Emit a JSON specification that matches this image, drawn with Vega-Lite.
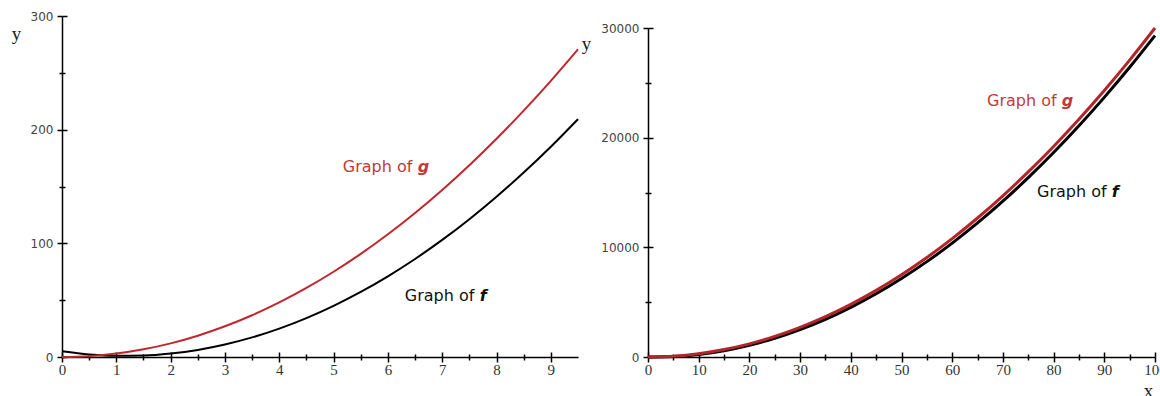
{
  "$schema": "https://vega.github.io/schema/vega-lite/v6.json",
  "autosize": {"type": "none"},
  "padding": {"left": 62, "top": 16, "right": 5, "bottom": 39},
  "width": 1093,
  "height": 341,
  "background": "white",
  "config": {"view": {"stroke": null}, "axis": {"grid": false}},
  "datasets": {
    "left": [
      {"x": 0, "f": 5, "g": 0}, {"x": 0.5, "f": 2.25, "g": 0.75}, {"x": 1, "f": 1, "g": 3}, {"x": 1.5, "f": 1.25, "g": 6.75},
      {"x": 2, "f": 3, "g": 12}, {"x": 2.5, "f": 6.25, "g": 18.75}, {"x": 3, "f": 11, "g": 27}, {"x": 3.5, "f": 17.25, "g": 36.75},
      {"x": 4, "f": 25, "g": 48}, {"x": 4.5, "f": 34.25, "g": 60.75}, {"x": 5, "f": 45, "g": 75}, {"x": 5.5, "f": 57.25, "g": 90.75},
      {"x": 6, "f": 71, "g": 108}, {"x": 6.5, "f": 86.25, "g": 126.75}, {"x": 7, "f": 103, "g": 147}, {"x": 7.5, "f": 121.25, "g": 168.75},
      {"x": 8, "f": 141, "g": 192}, {"x": 8.5, "f": 162.25, "g": 216.75}, {"x": 9, "f": 185, "g": 243}, {"x": 9.5, "f": 209.25, "g": 270.75}
    ],
    "right": [
      {"x": 0, "f": 5, "g": 0}, {"x": 5, "f": 45, "g": 75}, {"x": 10, "f": 235, "g": 300}, {"x": 15, "f": 575, "g": 675},
      {"x": 20, "f": 1065, "g": 1200}, {"x": 25, "f": 1705, "g": 1875}, {"x": 30, "f": 2495, "g": 2700}, {"x": 35, "f": 3435, "g": 3675},
      {"x": 40, "f": 4525, "g": 4800}, {"x": 45, "f": 5765, "g": 6075}, {"x": 50, "f": 7155, "g": 7500}, {"x": 55, "f": 8695, "g": 9075},
      {"x": 60, "f": 10385, "g": 10800}, {"x": 65, "f": 12225, "g": 12675}, {"x": 70, "f": 14215, "g": 14700}, {"x": 75, "f": 16355, "g": 16875},
      {"x": 80, "f": 18645, "g": 19200}, {"x": 85, "f": 21085, "g": 21675}, {"x": 90, "f": 23675, "g": 24300}, {"x": 95, "f": 26415, "g": 27075},
      {"x": 100, "f": 29305, "g": 30000}
    ],
    "leftText": [
      {"x": 5.17, "y": 167.2, "t": "Graph of", "c": "g"},
      {"x": 6.31, "y": 53.7, "t": "Graph of", "c": "f"}
    ],
    "leftItal": [
      {"x": 6.55, "y": 167.2, "t": "g", "c": "g"},
      {"x": 7.69, "y": 53.7, "t": "f", "c": "f"}
    ],
    "rightText": [
      {"x": 66.86, "y": 23344, "t": "Graph of", "c": "g"},
      {"x": 76.73, "y": 15046, "t": "Graph of", "c": "f"}
    ],
    "rightItal": [
      {"x": 81.6, "y": 23344, "t": "g", "c": "g"},
      {"x": 91.48, "y": 15046, "t": "f", "c": "f"}
    ]
  },
  "resolve": {"scale": {"x": "independent", "y": "independent"}},
  "layer": [
    {
      "data": {"name": "left"},
      "mark": {"type": "line", "color": "#000000", "strokeWidth": 2, "interpolate": "monotone"},
      "encoding": {
        "x": {"field": "x", "type": "quantitative", "scale": {"domain": [0, 9.5], "range": [0, 516], "nice": false, "zero": false},
          "axis": {"orient": "bottom", "values": [0, 1, 2, 3, 4, 5, 6, 7, 8, 9], "tickSize": 5, "tickWidth": 1.5, "tickColor": "#000", "domainColor": "#000", "domainWidth": 1.5,
            "labelFont": "Liberation Serif", "labelFontSize": 15, "labelColor": "#333", "labelPadding": 0, "labelFlush": false, "labelOverlap": false, "title": null}},
        "y": {"field": "f", "type": "quantitative", "scale": {"domain": [0, 300], "range": [341, 0], "nice": false},
          "axis": {"orient": "left", "values": [0, 100, 200, 300], "format": "d", "tickSize": 5, "tickWidth": 1.5, "tickColor": "#000", "domainColor": "#000", "domainWidth": 1.5,
            "labelFont": "DejaVu Sans", "labelFontSize": 12, "labelColor": "#444", "labelPadding": 4, "labelOverlap": false, "labelFlush": false,
            "title": "y", "titleAngle": 0, "titleX": -46, "titleY": 17, "titleAlign": "center", "titleBaseline": "middle",
            "titleFont": "Liberation Serif", "titleFontSize": 19, "titleFontWeight": "normal", "titleColor": "#222"}}
      }
    },
    {
      "data": {"name": "left"},
      "mark": {"type": "line", "color": "#c0272d", "strokeWidth": 2, "interpolate": "monotone"},
      "encoding": {
        "x": {"field": "x", "type": "quantitative", "scale": {"domain": [0, 9.5], "range": [0, 516], "nice": false, "zero": false},
          "axis": {"orient": "bottom", "values": [0, 1, 2, 3, 4, 5, 6, 7, 8, 9], "tickSize": -5, "tickWidth": 1.5, "tickColor": "#000", "domain": false, "labels": false, "title": null}},
        "y": {"field": "g", "type": "quantitative", "scale": {"domain": [0, 300], "range": [341, 0], "nice": false},
          "axis": {"orient": "left", "values": [0, 100, 200, 300], "tickSize": -5, "tickWidth": 1.5, "tickColor": "#000", "domain": false, "labels": false, "title": null}}
      }
    },
    {
      "data": {"name": "leftText"},
      "mark": {"type": "text", "align": "left", "baseline": "middle", "font": "DejaVu Sans", "fontSize": 16},
      "encoding": {
        "x": {"field": "x", "type": "quantitative", "scale": {"domain": [0, 9.5], "range": [0, 516], "nice": false, "zero": false},
          "axis": {"orient": "bottom", "values": [0.5, 1.5, 2.5, 3.5, 4.5, 5.5, 6.5, 7.5, 8.5], "tickSize": 3, "tickWidth": 1.5, "tickColor": "#000", "domain": false, "labels": false, "title": null}},
        "y": {"field": "y", "type": "quantitative", "scale": {"domain": [0, 300], "range": [341, 0], "nice": false},
          "axis": {"orient": "left", "values": [50, 150, 250], "tickSize": 3, "tickWidth": 1.5, "tickColor": "#000", "domain": false, "labels": false, "title": null}},
        "text": {"field": "t"},
        "color": {"field": "c", "type": "nominal", "scale": {"domain": ["g", "f"], "range": ["#c23a3a", "#111111"]}, "legend": null}
      }
    },
    {
      "data": {"name": "leftItal"},
      "mark": {"type": "text", "align": "left", "baseline": "middle", "font": "DejaVu Sans", "fontSize": 16, "fontStyle": "italic", "fontWeight": "bold"},
      "encoding": {
        "x": {"field": "x", "type": "quantitative", "scale": {"domain": [0, 9.5], "range": [0, 516], "nice": false, "zero": false},
          "axis": {"orient": "bottom", "values": [0.5, 1.5, 2.5, 3.5, 4.5, 5.5, 6.5, 7.5, 8.5], "tickSize": -3, "tickWidth": 1.5, "tickColor": "#000", "domain": false, "labels": false, "title": null}},
        "y": {"field": "y", "type": "quantitative", "scale": {"domain": [0, 300], "range": [341, 0], "nice": false},
          "axis": {"orient": "left", "values": [50, 150, 250], "tickSize": -3, "tickWidth": 1.5, "tickColor": "#000", "domain": false, "labels": false, "title": null}},
        "text": {"field": "t"},
        "color": {"field": "c", "type": "nominal", "scale": {"domain": ["g", "f"], "range": ["#c23a3a", "#111111"]}, "legend": null}
      }
    },
    {
      "data": {"name": "right"},
      "mark": {"type": "line", "color": "#000000", "strokeWidth": 3, "interpolate": "monotone"},
      "encoding": {
        "x": {"field": "x", "type": "quantitative", "scale": {"domain": [0, 100], "range": [586, 1093], "nice": false, "zero": false},
          "axis": {"orient": "bottom", "values": [0, 10, 20, 30, 40, 50, 60, 70, 80, 90, 100], "tickSize": 5, "tickWidth": 1.5, "tickColor": "#000", "domainColor": "#000", "domainWidth": 1.5,
            "labelFont": "Liberation Serif", "labelFontSize": 15, "labelColor": "#333", "labelPadding": 0, "labelFlush": false, "labelOverlap": false,
            "title": "x", "titleX": 1086, "titleY": 33, "titleAlign": "center", "titleBaseline": "middle",
            "titleFont": "Liberation Serif", "titleFontSize": 19, "titleFontWeight": "normal", "titleColor": "#222"}},
        "y": {"field": "f", "type": "quantitative", "scale": {"domain": [0, 30000], "range": [341, 12], "nice": false},
          "axis": {"orient": "left", "offset": -586, "values": [0, 10000, 20000, 30000], "format": "d", "tickSize": 5, "tickWidth": 1.5, "tickColor": "#000", "domainColor": "#000", "domainWidth": 1.5,
            "labelFont": "DejaVu Sans", "labelFontSize": 12, "labelColor": "#444", "labelPadding": 4, "labelOverlap": false, "labelFlush": false,
            "title": "y", "titleAngle": 0, "titleX": -62, "titleY": 27, "titleAlign": "center", "titleBaseline": "middle",
            "titleFont": "Liberation Serif", "titleFontSize": 19, "titleFontWeight": "normal", "titleColor": "#222"}}
      }
    },
    {
      "data": {"name": "right"},
      "mark": {"type": "line", "color": "#b3242b", "strokeWidth": 3, "interpolate": "monotone"},
      "encoding": {
        "x": {"field": "x", "type": "quantitative", "scale": {"domain": [0, 100], "range": [586, 1093], "nice": false, "zero": false},
          "axis": {"orient": "bottom", "values": [0, 10, 20, 30, 40, 50, 60, 70, 80, 90, 100], "tickSize": -5, "tickWidth": 1.5, "tickColor": "#000", "domain": false, "labels": false, "title": null}},
        "y": {"field": "g", "type": "quantitative", "scale": {"domain": [0, 30000], "range": [341, 12], "nice": false},
          "axis": {"orient": "left", "offset": -586, "values": [0, 10000, 20000, 30000], "tickSize": -5, "tickWidth": 1.5, "tickColor": "#000", "domain": false, "labels": false, "title": null}}
      }
    },
    {
      "data": {"name": "rightText"},
      "mark": {"type": "text", "align": "left", "baseline": "middle", "font": "DejaVu Sans", "fontSize": 16},
      "encoding": {
        "x": {"field": "x", "type": "quantitative", "scale": {"domain": [0, 100], "range": [586, 1093], "nice": false, "zero": false},
          "axis": {"orient": "bottom", "values": [5, 15, 25, 35, 45, 55, 65, 75, 85, 95], "tickSize": 3, "tickWidth": 1.5, "tickColor": "#000", "domain": false, "labels": false, "title": null}},
        "y": {"field": "y", "type": "quantitative", "scale": {"domain": [0, 30000], "range": [341, 12], "nice": false},
          "axis": {"orient": "left", "offset": -586, "values": [5000, 15000, 25000], "tickSize": 3, "tickWidth": 1.5, "tickColor": "#000", "domain": false, "labels": false, "title": null}},
        "text": {"field": "t"},
        "color": {"field": "c", "type": "nominal", "scale": {"domain": ["g", "f"], "range": ["#c23a3a", "#111111"]}, "legend": null}
      }
    },
    {
      "data": {"name": "rightItal"},
      "mark": {"type": "text", "align": "left", "baseline": "middle", "font": "DejaVu Sans", "fontSize": 16, "fontStyle": "italic", "fontWeight": "bold"},
      "encoding": {
        "x": {"field": "x", "type": "quantitative", "scale": {"domain": [0, 100], "range": [586, 1093], "nice": false, "zero": false},
          "axis": {"orient": "bottom", "values": [5, 15, 25, 35, 45, 55, 65, 75, 85, 95], "tickSize": -3, "tickWidth": 1.5, "tickColor": "#000", "domain": false, "labels": false, "title": null}},
        "y": {"field": "y", "type": "quantitative", "scale": {"domain": [0, 30000], "range": [341, 12], "nice": false},
          "axis": {"orient": "left", "offset": -586, "values": [5000, 15000, 25000], "tickSize": -3, "tickWidth": 1.5, "tickColor": "#000", "domain": false, "labels": false, "title": null}},
        "text": {"field": "t"},
        "color": {"field": "c", "type": "nominal", "scale": {"domain": ["g", "f"], "range": ["#c23a3a", "#111111"]}, "legend": null}
      }
    }
  ]
}
